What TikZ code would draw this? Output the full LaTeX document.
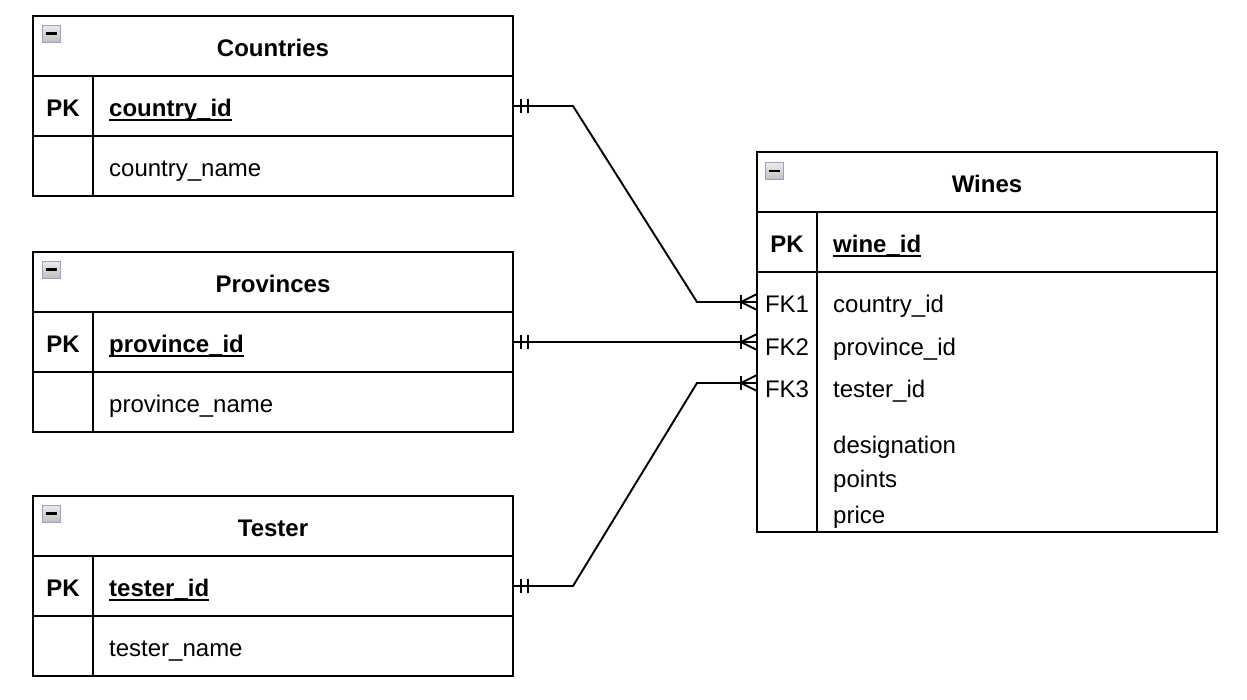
\documentclass[tikz,border=0pt]{standalone}
\usepackage{fontspec}
\setmainfont{Liberation Sans}
\begin{document}
\begin{tikzpicture}[x=1pt,y=-1pt,
  cell/.style={draw, line width=1.9pt, inner sep=0pt, outer sep=0pt, minimum width=480pt, minimum height=60pt},
  wcell/.style={cell, minimum width=460pt},
  txt/.style={font=\fontsize{24}{28}\selectfont, inner sep=0pt, anchor=base},
  fld/.style={txt, anchor=base west},
  ttl/.style={txt, font=\fontsize{24}{28}\selectfont\bfseries},
  ul/.style={line width=1.8pt},
  conn/.style={line width=1.9pt},
  icon/.style={draw=gray!75!blue!60, line width=0.9pt, top color=gray!15, bottom color=gray!50, minimum width=18pt, minimum height=17pt, inner sep=0pt}
]
\useasboundingbox (0,0) rectangle (1247,699);
\fill[white] (0,0) rectangle (1247,699);

% ---------- Countries ----------
\node[cell] (ct) at (273,46) {};
\node[cell] (cpk) at (273,106) {};
\node[cell] (cr) at (273,166) {};
\draw[line width=1.9pt] (93,76) -- (93,196);
\node[icon] (ci) at (51,33.5) {};
\draw[line width=2.2pt] ([xshift=-5.5pt]ci.center) -- ([xshift=5.5pt]ci.center);
\node[ttl] (ctt) at (273,56) {Countries};
\node[ttl] (cpkl) at (63,116) {PK};
\node[ttl, anchor=base west] (cpkt) at (109,116) {country\_id};
\draw[ul] ([yshift=-4pt]cpkt.base west) -- ([yshift=-4pt]cpkt.base east);
\node[fld] (cf1) at (109,176) {country\_name};

% ---------- Provinces ----------
\node[cell] (pt) at (273,282) {};
\node[cell] (ppk) at (273,342) {};
\node[cell] (pr) at (273,402) {};
\draw[line width=1.9pt] (93,312) -- (93,432);
\node[icon] (pi) at (51,269.5) {};
\draw[line width=2.2pt] ([xshift=-5.5pt]pi.center) -- ([xshift=5.5pt]pi.center);
\node[ttl] (ptt) at (273,292) {Provinces};
\node[ttl] (ppkl) at (63,352) {PK};
\node[ttl, anchor=base west] (ppkt) at (109,352) {province\_id};
\draw[ul] ([yshift=-4pt]ppkt.base west) -- ([yshift=-4pt]ppkt.base east);
\node[fld] (pf1) at (109,412) {province\_name};

% ---------- Tester ----------
\node[cell] (tt) at (273,526) {};
\node[cell] (tpk) at (273,586) {};
\node[cell] (tr) at (273,646) {};
\draw[line width=1.9pt] (93,556) -- (93,676);
\node[icon] (ti) at (51,513.5) {};
\draw[line width=2.2pt] ([xshift=-5.5pt]ti.center) -- ([xshift=5.5pt]ti.center);
\node[ttl] (ttt) at (273,536) {Tester};
\node[ttl] (tpkl) at (63,596) {PK};
\node[ttl, anchor=base west] (tpkt) at (109,596) {tester\_id};
\draw[ul] ([yshift=-4pt]tpkt.base west) -- ([yshift=-4pt]tpkt.base east);
\node[fld] (tf1) at (109,656) {tester\_name};

% ---------- Wines ----------
\node[wcell] (wt) at (987,182) {};
\node[wcell] (wpk) at (987,242) {};
\node[wcell, minimum height=260pt] (wb) at (987,402) {};
\draw[line width=1.9pt] (817,212) -- (817,532);
\node[icon] (wi) at (774.5,171) {};
\draw[line width=2.2pt] ([xshift=-5.5pt]wi.center) -- ([xshift=5.5pt]wi.center);
\node[ttl] (wtt) at (987,192) {Wines};
\node[ttl] (wpkl) at (787,252) {PK};
\node[ttl, anchor=base west] (wpkt) at (833,252) {wine\_id};
\draw[ul] ([yshift=-4pt]wpkt.base west) -- ([yshift=-4pt]wpkt.base east);
\node[txt] (fk1) at (787,312) {FK1};
\node[txt] (fk2) at (787,355) {FK2};
\node[txt] (fk3) at (787,397) {FK3};
\node[fld] (wf1) at (833,312) {country\_id};
\node[fld] (wf2) at (833,355) {province\_id};
\node[fld] (wf3) at (833,397) {tester\_id};
\node[fld] (wf4) at (833,453) {designation};
\node[fld] (wf5) at (833,487) {points};
\node[fld] (wf6) at (833,523) {price};

% ---------- connectors ----------
\coordinate (e1) at (wb.west |- 0,302);
\coordinate (e2) at (wb.west |- 0,342);
\coordinate (e3) at (wb.west |- 0,383);

\draw[conn] (cpk.east) -- ++(60,0) -- ([xshift=-60pt]e1) -- (e1);
\draw[conn] (ppk.east) -- (e2);
\draw[conn] (tpk.east) -- ++(60,0) -- ([xshift=-60pt]e3) -- (e3);

% mandatory-one marks
\foreach \s in {cpk,ppk,tpk}{
  \draw[conn] ([xshift=8pt,yshift=7pt]\s.east) -- ([xshift=8pt,yshift=-7pt]\s.east);
  \draw[conn] ([xshift=15pt,yshift=7pt]\s.east) -- ([xshift=15pt,yshift=-7pt]\s.east);
}
% crow's foot (many) marks
\foreach \e in {e1,e2,e3}{
  \draw[conn] ([xshift=-16pt,yshift=7pt]\e) -- ([xshift=-16pt,yshift=-7pt]\e);
  \draw[conn] ([yshift=8pt]\e) -- ([xshift=-16pt]\e) -- ([yshift=-8pt]\e);
}
\end{tikzpicture}
\end{document}
